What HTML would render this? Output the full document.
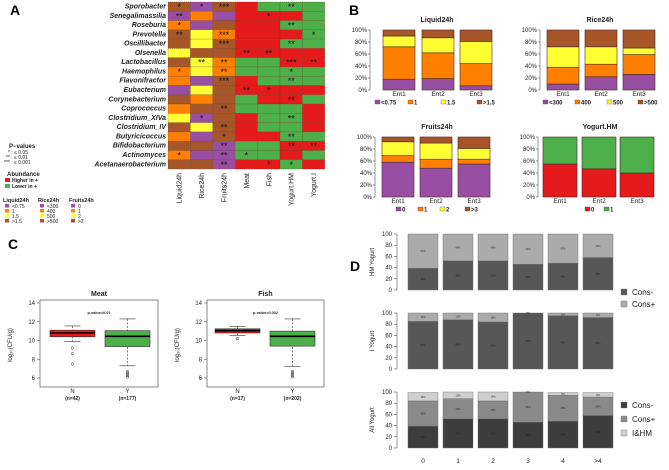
<!DOCTYPE html>
<html><head><meta charset="utf-8"><style>
body{margin:0;background:#fff}
svg{font-family:"Liberation Sans",sans-serif}
</style></head><body>
<svg id="s" width="669" height="465" viewBox="0 0 669 465">
<text x="10" y="15" font-size="14" font-weight="bold">A</text>
<text x="349" y="15" font-size="14" font-weight="bold">B</text>
<text x="8" y="249" font-size="14" font-weight="bold">C</text>
<text x="350" y="271" font-size="14" font-weight="bold">D</text>
</svg>
<script>
// ---------- Panel A data ----------
const taxa=["Sporobacter","Senegalimassilia","Roseburia","Prevotella","Oscillibacter","Olsenella","Lactobacillus","Haemophilus","Flavonifractor","Eubacterium","Corynebacterium","Coprococcus","Clostridium_XIVa","Clostridium_IV","Butyricicoccus","Bifidobacterium","Actinomyces","Acetanaerobacterium"];
const heatCols=["Liquid24h","Rice24h","Fruits24h","Meat","Fish","Yogurt.HM","Yogurt.I"];
const heatColors=["BPBRGGG","POPRRRG","OPBRRGG","BYORRRG","BYBRRGG","YBBRRRR","BYOGGRR","OYOGGGG","OPBRGGG","PYBRRRR","BOBGRRG","OBBGGGR","YPBRGGR","BYBRGGR","OPBRRGG","BBPGGRR","OPPGGRG","BBPRRGR"];
const heatStars=[[1,1,3,0,0,2,0],[2,0,0,0,1,0,0],[1,0,0,0,0,2,0],[2,0,3,0,0,0,1],[0,0,3,0,0,2,0],[0,0,0,2,2,0,0],[0,2,2,0,0,3,2],[1,0,2,0,0,1,0],[0,0,3,0,0,2,0],[0,0,0,2,1,0,0],[0,0,0,0,0,2,0],[0,0,2,0,0,0,0],[0,1,0,0,0,2,0],[0,0,2,0,0,0,0],[0,0,1,0,0,2,0],[0,0,2,0,0,2,2],[1,0,2,1,0,0,0],[0,0,2,0,1,1,0]];
// ---------- Panel B data ----------
const entLabels=["Ent1","Ent2","Ent3"];
const liquidVals=[[18,54,18,10],[19,43,25,13],[7,37,37,19]];
const riceVals=[[10,28,34,28],[22,21,29,28],[26,33,11,30]];
const fruitVals=[[58,11,23,8],[48,15,27,10],[55,8,18,19]];
const yogHMVals=[[55,45],[47,53],[40,60]];
const bTicks=["0%","20%","40%","60%","80%","100%"];
// ---------- Panel C data ----------
const meatN=[10.4,10.8,11.1,9.9,11.55];const meatNOut=[9.2,8.6,7.5];
const meatY=[9.35,10.45,11.05,7.3,12.3];const meatYOut=[6.1,6.25,6.4,6.55,6.7];
const fishN=[10.8,11.05,11.25,10.55,11.5];const fishNOut=[10.2];
const fishY=[9.4,10.45,11.0,7.25,12.3];const fishYOut=[6.1,6.25,6.4,6.55,6.7];
const cTicks=[6,8,10,12,14];
// ---------- Panel D data ----------
const dCats=["0","1","2","3","4",">4"];
const hmConsMinus=[39,52,52,46,48,58];const hmConsPlus=[61,48,48,54,52,42];
const iConsMinus=[85,88,84,100,95,92];const iConsPlus=[15,12,16,0,5,8];
const allConsMinus=[39,52,52,46,48,58];const allConsPlus=[45,36,32,54,46,33];const allIHM=[15,12,16,0,5,8];
const dTicks=[0,20,40,60,80,100];

const S=document.getElementById('s');const NS="http://www.w3.org/2000/svg";
function el(t,a,txt){const e=document.createElementNS(NS,t);for(const k in a)e.setAttribute(k,a[k]);if(txt!==undefined)e.textContent=txt;S.appendChild(e);return e;}
const C={P:"#984EA3",O:"#FF7F00",Y:"#FFFF33",B:"#A65628",R:"#E41A1C",G:"#4DAF4A"};

// Panel A
const hx0=168,hcw=22.4,hy0=2,hrh=9.28;
taxa.forEach((t,i)=>{
 const y=hy0+i*hrh;
 let e=el('text',{x:166,y:y+6.5,'font-size':7,'font-style':'italic','font-weight':'bold','text-anchor':'end',fill:'#222'},t);
 
 heatCols.forEach((c,j)=>{
  const r=el('rect',{x:hx0+j*hcw,y:y,width:hcw,height:hrh,fill:C[heatColors[i][j]],stroke:'#6a3a20','stroke-width':0.4,'stroke-dasharray':'1,1'});
  
  if(heatStars[i][j]){const s=el('text',{x:hx0+j*hcw+hcw/2,y:y+8,'font-size':9,'text-anchor':'middle',fill:'#111'},'*'.repeat(heatStars[i][j]));
   }
 });
});
heatCols.forEach((c,j)=>{const x=hx0+j*hcw+hcw/2+2.5;
 const e=el('text',{x:x,y:173,'font-size':7,'text-anchor':'end',transform:`rotate(-90 ${x} 173)`,fill:'#222'},c);
 });
// A legends
function tx(x,y,t,fs,extra,name){const e=el('text',Object.assign({x:x,y:y,'font-size':fs||5,fill:'#222'},extra||{}),t);return e;}
tx(9,148,"P−values",6,{'font-weight':'bold'},'pvalue-legend-title');
tx(8,154,"*  :  ≤ 0.05",5);tx(6,159,"**  :  ≤ 0.01",5);tx(4,164,"***  :  ≤ 0.001",5);
tx(7,176,"Abundance",6,{'font-weight':'bold'},'abundance-legend-title');
el('rect',{x:5,y:178,width:5,height:4,fill:C.R});tx(12,182,"Higher in +",5,{'font-weight':'bold'});
el('rect',{x:5,y:184,width:5,height:4,fill:C.G});tx(12,188,"Lower in +",5,{'font-weight':'bold'});
const legA=[["Liquid24h",3,["<0.75","1","1.5",">1.5"]],["Rice24h",38,["<300","400","500",">500"]],["Fruits24h",69,["0","1","2",">2"]]];
legA.forEach(([t,x,labs])=>{tx(x,202,t,5.5,{'font-weight':'bold'},'heat-legend-title');
 labs.forEach((l,k)=>{el('rect',{x:x+2,y:204+k*5,width:4,height:3.5,fill:[C.P,C.O,C.Y,C.B][k]});tx(x+9,208+k*5,l,5);});});

// Panel B
function stack(title,tx0,axX,bx,bw,y100,y0,vals,cols,legLabs,legXs,titleX){
 tx(titleX,y100-8,title,7,{'font-weight':'bold','text-anchor':'middle'},'chart-title');
 const sc=v=>y0-(y0-y100)*v/100;
 el('line',{x1:axX,y1:sc(0),x2:axX,y2:sc(100),stroke:'#555','stroke-width':0.6});
 bTicks.forEach((t,k)=>{const y=sc(k*20);el('line',{x1:axX-2,y1:y,x2:axX,y2:y,stroke:'#555','stroke-width':0.6});tx(axX-3,y+2,t,6,{'text-anchor':'end'},'y-tick-label');});
 vals.forEach((v,i)=>{let acc=0;v.forEach((val,k)=>{const r=el('rect',{x:bx[i],y:sc(acc+val),width:bw,height:sc(acc)-sc(acc+val),fill:cols[k],stroke:'#4a2a20','stroke-width':0.6});
  acc+=val;});
  tx(bx[i]+bw/2,y0+6,entLabels[i],6.5,{'text-anchor':'middle'},'x-tick-label');});
 legLabs.forEach((l,k)=>{el('rect',{x:legXs[k],y:y0+10,width:5,height:4,fill:cols[k],stroke:'#333','stroke-width':0.3});tx(legXs[k]+6,y0+14.5,l,6,{'font-weight':'bold'},'legend-entry');});
}
const q=[C.P,C.O,C.Y,C.B];
stack("Liquid24h",0,370,[383,422,460],32,30,90,liquidVals,q,["<0.75","1","1.5",">1.5"],[375,408,441,477],437);
stack("Rice24h",0,540,[547,585,623],32,30,90,riceVals,q,["<300","400","500",">500"],[543,575,607,638],600);
stack("Fruits24h",0,375,[382,420,458],32,137,197,fruitVals,q,["0","1","2",">3"],[396,418,440,465],437);
stack("Yogurt.HM",0,538,[543,582,620],34,137,197,yogHMVals,[C.R,C.G],["0","1"],[585,604],600);

// Panel C
function box(title,pv,fx,fw,bx,bw,stats,outs,cols,ns){
 const y14=303,y6=378,sc=v=>y6-(v-6)*(y6-y14)/8;
 el('rect',{x:fx,y:300,width:fw,height:87,fill:'none',stroke:'#555','stroke-width':0.7});
 tx(fx+fw/2,296,title,7,{'font-weight':'bold','text-anchor':'middle'},'chart-title');
 tx(fx+fw/2,314,pv,3.8,{'font-weight':'bold','text-anchor':'middle'},'p-value-label');
 cTicks.forEach(t=>{const y=sc(t);el('line',{x1:fx-3,y1:y,x2:fx,y2:y,stroke:'#555','stroke-width':0.6});tx(fx-5,y+2,String(t),6,{'text-anchor':'end'},'y-tick-label');});
 const yl=fx-28;tx(yl,345,"log₁₀(CFU/g)",6,{'text-anchor':'middle',transform:`rotate(-90 ${yl} 345)`},'y-axis-title');
 stats.forEach((s,i)=>{const [q1,md,q3,wl,wh]=s;const cx=bx[i]+bw/2;
  el('line',{x1:cx,y1:sc(wh),x2:cx,y2:sc(wl),stroke:'#333','stroke-width':0.6,'stroke-dasharray':'2,1.5'});
  el('line',{x1:cx-8,y1:sc(wh),x2:cx+8,y2:sc(wh),stroke:'#333','stroke-width':0.6});
  el('line',{x1:cx-8,y1:sc(wl),x2:cx+8,y2:sc(wl),stroke:'#333','stroke-width':0.6});
  const r=el('rect',{x:bx[i],y:sc(q3),width:bw,height:sc(q1)-sc(q3),fill:cols[i],stroke:'#333','stroke-width':0.6});
  
  el('line',{x1:bx[i],y1:sc(md),x2:bx[i]+bw,y2:sc(md),stroke:'#000','stroke-width':1.6});
  outs[i].forEach(o=>{const c=el('circle',{cx:cx,cy:sc(o),r:1.2,fill:'none',stroke:'#333','stroke-width':0.5});});
  tx(cx,393,i?"Y":"N",6,{'text-anchor':'middle'},'x-tick-label');tx(cx,400,ns[i],5,{'text-anchor':'middle','font-weight':'bold'},'n-label');});
}
box("Meat","p-value=0.01",40,118,[50,105],45,[meatN,meatY],[meatNOut,meatYOut],[C.R,C.G],["(n=42)","(n=177)"]);
box("Fish","p-value=0.002",207,117,[215,270],45,[fishN,fishY],[fishNOut,fishYOut],[C.R,C.G],["(n=17)","(n=202)"]);

// Panel D
const dbx=[408,443,478,513,548,583];
function dplot(title,y100,y0,series,cols){
 const sc=v=>y0-(y0-y100)*v/100;
 el('line',{x1:397,y1:sc(0),x2:397,y2:sc(100),stroke:'#555','stroke-width':0.6});
 dTicks.forEach(t=>{const y=sc(t);el('line',{x1:394,y1:y,x2:397,y2:y,stroke:'#555','stroke-width':0.6});tx(392,y+2,String(t),6,{'text-anchor':'end'},'y-tick-label');});
 tx(374,(y0+y100)/2,title,6,{'text-anchor':'middle',transform:`rotate(-90 374 ${(y0+y100)/2})`},'y-axis-title');
 dCats.forEach((c,i)=>{let acc=0;series.forEach((s,k)=>{const v=s[i];
  const r=el('rect',{x:dbx[i],y:sc(acc+v),width:30,height:sc(acc)-sc(acc+v),fill:cols[k],stroke:'#666','stroke-width':0.4});
  
  tx(dbx[i]+15,sc(acc+v/2)+1,v+"%",2.5,{'text-anchor':'middle'},'bar-value-label');acc+=v;});});
}
dplot("HM Yogurt",234,290,[hmConsMinus,hmConsPlus],["#575757","#ababab"]);
dplot("I Yogurt",313,369,[iConsMinus,iConsPlus],["#575757","#ababab"]);
dplot("All Yogurt",392,448,[allConsMinus,allConsPlus,allIHM],["#3d3d3d","#8a8a8a","#cfcfcf"]);
dCats.forEach((c,i)=>tx(dbx[i]+15,463,c,6.5,{'text-anchor':'middle'},'x-tick-label'));
[["Cons-","#575757",294],["Cons+","#ababab",306]].forEach(([l,c,y])=>{el('rect',{x:621,y:y-5,width:6,height:6,fill:c,stroke:'#777','stroke-width':0.4});tx(632,y+1,l,8,{},'legend-entry');});
[["Cons-","#3d3d3d",407],["Cons+","#8a8a8a",421],["I&HM","#cfcfcf",435]].forEach(([l,c,y])=>{el('rect',{x:621,y:y-5,width:6,height:6,fill:c,stroke:'#777','stroke-width':0.4});tx(632,y+1,l,8,{},'legend-entry');});
</script>
</body></html>
